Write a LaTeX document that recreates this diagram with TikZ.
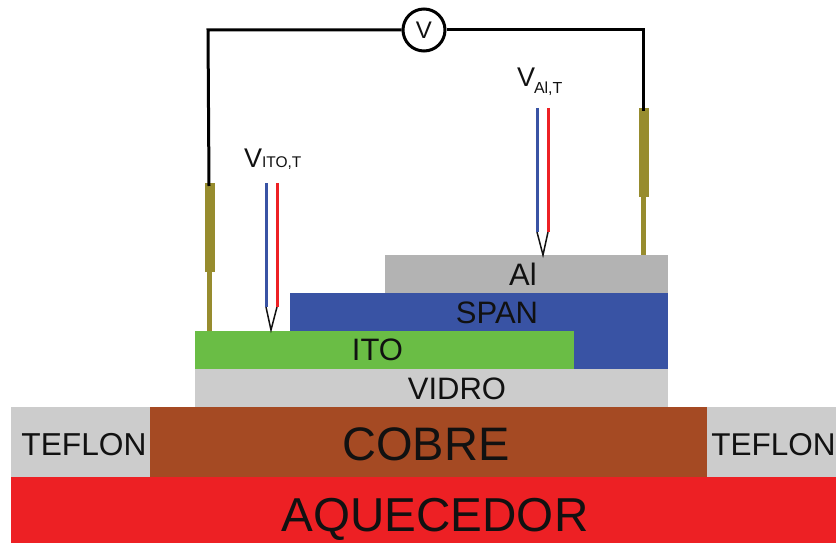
\documentclass[tikz,border=0pt]{standalone}
\usepackage{fontspec}
\setmainfont{Liberation Sans}
\definecolor{heater}{HTML}{ED2024}
\definecolor{teflon}{HTML}{CCCCCC}
\definecolor{copperc}{HTML}{A54A23}
\definecolor{itoc}{HTML}{6ABD45}
\definecolor{spanc}{HTML}{3953A4}
\definecolor{alc}{HTML}{B3B3B3}
\definecolor{probec}{HTML}{978C2E}
\definecolor{tcred}{HTML}{ED2024}
\definecolor{ink}{HTML}{111111}
\newcommand{\pxfont}[1]{\fontsize{#1}{#1}\selectfont}
\tikzset{
  x=1pt,y=-1pt,
  lbl/.style={anchor=base,inner sep=0pt,outer sep=0pt,text=ink},
  box/.style={rectangle,inner sep=0pt,outer sep=0pt,draw=none,anchor=north west},
  probebox/.style={box,fill=probec},
  wire/.style={line width=3pt,draw=black,line join=miter},
  tcblue/.style={line width=3pt,draw=spanc},
  tcredl/.style={line width=3pt,draw=tcred},
  tip/.style={line width=1.5pt,draw=ink},
}
\begin{document}
\begin{tikzpicture}
\useasboundingbox (0,0) rectangle (836,543);
% layers
\node[box,fill=heater,minimum width=825pt,minimum height=66pt] (aq) at (11,477) {};
\node[box,fill=teflon,minimum width=139pt,minimum height=70pt] (tl) at (11,407) {};
\node[box,fill=teflon,minimum width=129pt,minimum height=70pt] (tr) at (707,407) {};
\node[box,fill=copperc,minimum width=557pt,minimum height=70pt] (co) at (150,407) {};
\node[box,fill=teflon,minimum width=473pt,minimum height=38pt] (vi) at (195,369) {};
\node[box,fill=itoc,minimum width=379pt,minimum height=38pt] (it) at (195,331) {};
\node[box,fill=spanc,minimum width=94pt,minimum height=38pt] (sb) at (574,331) {};
\node[box,fill=spanc,minimum width=378pt,minimum height=38pt] (sp) at (290,293) {};
\node[box,fill=alc,minimum width=283pt,minimum height=38pt] (al) at (385,255) {};
% layer labels
\node[lbl,font=\pxfont{47.6}] (taq) at (435,531) {AQUECEDOR};
\node[lbl,font=\pxfont{31.7}] (ttl) at (84,455) {TEFLON};
\node[lbl,font=\pxfont{31.5}] (ttr) at (773.5,455) {TEFLON};
\node[lbl,font=\pxfont{47}] (tco) at (426,460) {COBRE};
\node[lbl,font=\pxfont{31}] (tvi) at (457,399) {VIDRO};
\node[lbl,font=\pxfont{31}] (tit) at (377.5,360.5) {ITO};
\node[lbl,font=\pxfont{31}] (tsp) at (497,323) {SPAN};
\node[lbl,font=\pxfont{31}] (tal) at (523,285) {Al};
% voltmeter probes
\node[probebox,minimum width=5pt,minimum height=60pt] (pl2) at (207,271) {};
\node[probebox,minimum width=10pt,minimum height=89pt] (pl1) at (204.5,183) {};
\node[probebox,minimum width=5pt,minimum height=59pt] (pr2) at (641,196) {};
\node[probebox,minimum width=10pt,minimum height=89pt] (pr1) at (639,108) {};
% voltmeter
\node[circle,draw=black,line width=3pt,fill=white,minimum size=42pt,inner sep=0pt,font=\pxfont{24},text=ink] (v) at (424,30) {V};
\coordinate (wl) at (209,186);
\coordinate (wr) at (643,111);
\draw[wire] (wl) -- (208,30) -- (v.west);
\draw[wire] (v.east) -- (643,30) -- (wr);
% thermocouples
\coordinate (b1a) at (266,183); \coordinate (b1b) at (266,307);
\coordinate (r1a) at (277,183); \coordinate (r1b) at (277,307);
\coordinate (t1) at (271,330);
\draw[tip] (b1b) -- (t1) -- (r1b);
\draw[tcblue] (b1a) -- (b1b);
\draw[tcredl] (r1a) -- (r1b);
\coordinate (b2a) at (537,108); \coordinate (b2b) at (537,232);
\coordinate (r2a) at (548,108); \coordinate (r2b) at (548,232);
\coordinate (t2) at (543,255);
\draw[tip] (b2b) -- (t2) -- (r2b);
\draw[tcblue] (b2a) -- (b2b);
\draw[tcredl] (r2a) -- (r2b);
% thermocouple labels
\node[lbl,anchor=base west,font=\pxfont{27}] (vi1) at (244,167) {V};
\node[lbl,anchor=base west,font=\pxfont{15.5}] (vi2) at (262,167) {ITO,T};
\node[lbl,anchor=base west,font=\pxfont{27}] (va1) at (517,87) {V};
\node[lbl,anchor=base west,font=\pxfont{16}] (va2) at (534,93) {Al,T};
\end{tikzpicture}
\end{document}
